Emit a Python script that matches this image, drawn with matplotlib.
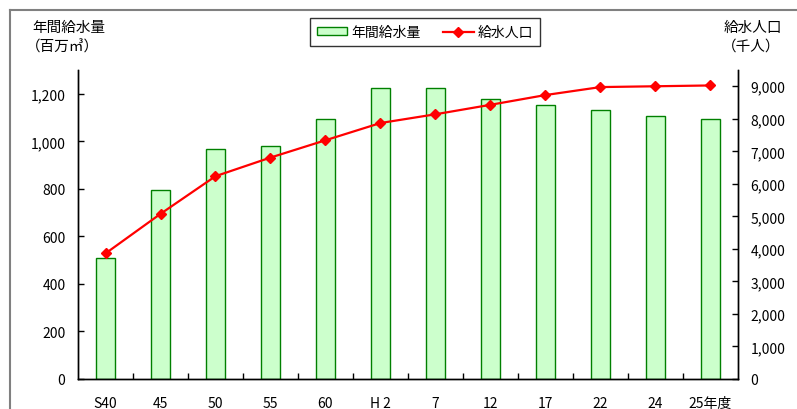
import matplotlib
matplotlib.use("Agg")
import matplotlib.pyplot as plt
from matplotlib.lines import Line2D
from matplotlib.patches import Patch
from matplotlib.ticker import FuncFormatter, FixedLocator

plt.rcParams['font.family'] = ['Noto Sans CJK JP', 'DejaVu Sans']

categories = ["S40", "45", "50", "55", "60", "H 2", "7", "12", "17", "22", "24", "25年度"]
water_volume = [508, 796, 967, 980, 1093, 1224, 1224, 1178, 1154, 1130, 1106, 1092]
population = [3860, 5077, 6235, 6808, 7340, 7870, 8139, 8430, 8730, 8975, 9000, 9025]

fig = plt.figure(figsize=(7.97, 4.10), dpi=100)
W, H = 797, 410
L, R, B, T = 78 / W, 738 / W, (H - 380) / H, (H - 71) / H
ax1 = fig.add_axes([L, B, R - L, T - B])
ax2 = ax1.twinx()

x = list(range(len(categories)))
ax1.bar(x, water_volume, width=0.35, color='#CCFFCC', edgecolor='#008000', linewidth=1.0, zorder=2)
ax2.plot(x, population, color='#FF0000', linewidth=1.6, marker='D', markersize=5,
         markerfacecolor='#FF0000', markeredgecolor='#FF0000', zorder=3)

ax1.set_xlim(-0.5, len(categories) - 0.5)
ax1.set_ylim(0, 1300)
ax2.set_ylim(0, 9500)
ax1.set_yticks(range(0, 1201, 200))
ax2.set_yticks(range(0, 9001, 1000))
fmt = FuncFormatter(lambda v, p: f"{int(v):,}")
ax1.yaxis.set_major_formatter(fmt)
ax2.yaxis.set_major_formatter(fmt)

ax1.set_xticks(x)
ax1.set_xticklabels(categories)
ax1.xaxis.set_minor_locator(FixedLocator([i + 0.5 for i in range(len(categories) - 1)]))
ax1.tick_params(axis='x', which='major', length=0, pad=12, labelsize=10, colors='#000000')
ax1.tick_params(axis='x', which='minor', direction='in', length=4, width=1, color='#000000')
ax1.tick_params(axis='y', direction='in', length=4, width=1, pad=9, labelsize=10)
ax2.tick_params(axis='y', direction='in', length=4, width=1, pad=9, labelsize=10)

for ax in (ax1, ax2):
    ax.spines['top'].set_visible(False)
    for s in ('left', 'right', 'bottom'):
        ax.spines[s].set_color('#000000')
        ax.spines[s].set_linewidth(1.0)

fig.text(32 / W, 1 - 28 / H, "年間給水量", fontsize=10.5, ha='left', va='center')
fig.text(26 / W, 1 - 47 / H, "（百万㎥）", fontsize=10.5, ha='left', va='center')
fig.text(782 / W, 1 - 28 / H, "給水人口", fontsize=10.5, ha='right', va='center')
fig.text(780 / W, 1 - 47 / H, "（千人）", fontsize=10.5, ha='right', va='center')

handles = [Patch(facecolor='#CCFFCC', edgecolor='#008000', linewidth=1.0),
           Line2D([0], [0], color='#FF0000', linewidth=1.6, marker='D', markersize=5)]
leg = fig.legend(handles, ["年間給水量", "給水人口"], loc='center', bbox_to_anchor=(425 / W, 1 - 33 / H),
                 ncol=2, frameon=True, fancybox=False, edgecolor='#000000', fontsize=10,
                 handlelength=2.2, handleheight=0.5, columnspacing=1.6, handletextpad=0.3,
                 borderpad=0.5)
leg.get_frame().set_linewidth(1.0)

# outer chart frame (left and top edges visible)
fig.add_artist(Line2D([10 / W, 10 / W], [0, 1 - 11 / H], transform=fig.transFigure, color='#808080', linewidth=1.5))
fig.add_artist(Line2D([10 / W, 1], [1 - 11 / H, 1 - 11 / H], transform=fig.transFigure, color='#808080', linewidth=1.5))

fig.savefig("out.png", dpi=100)
